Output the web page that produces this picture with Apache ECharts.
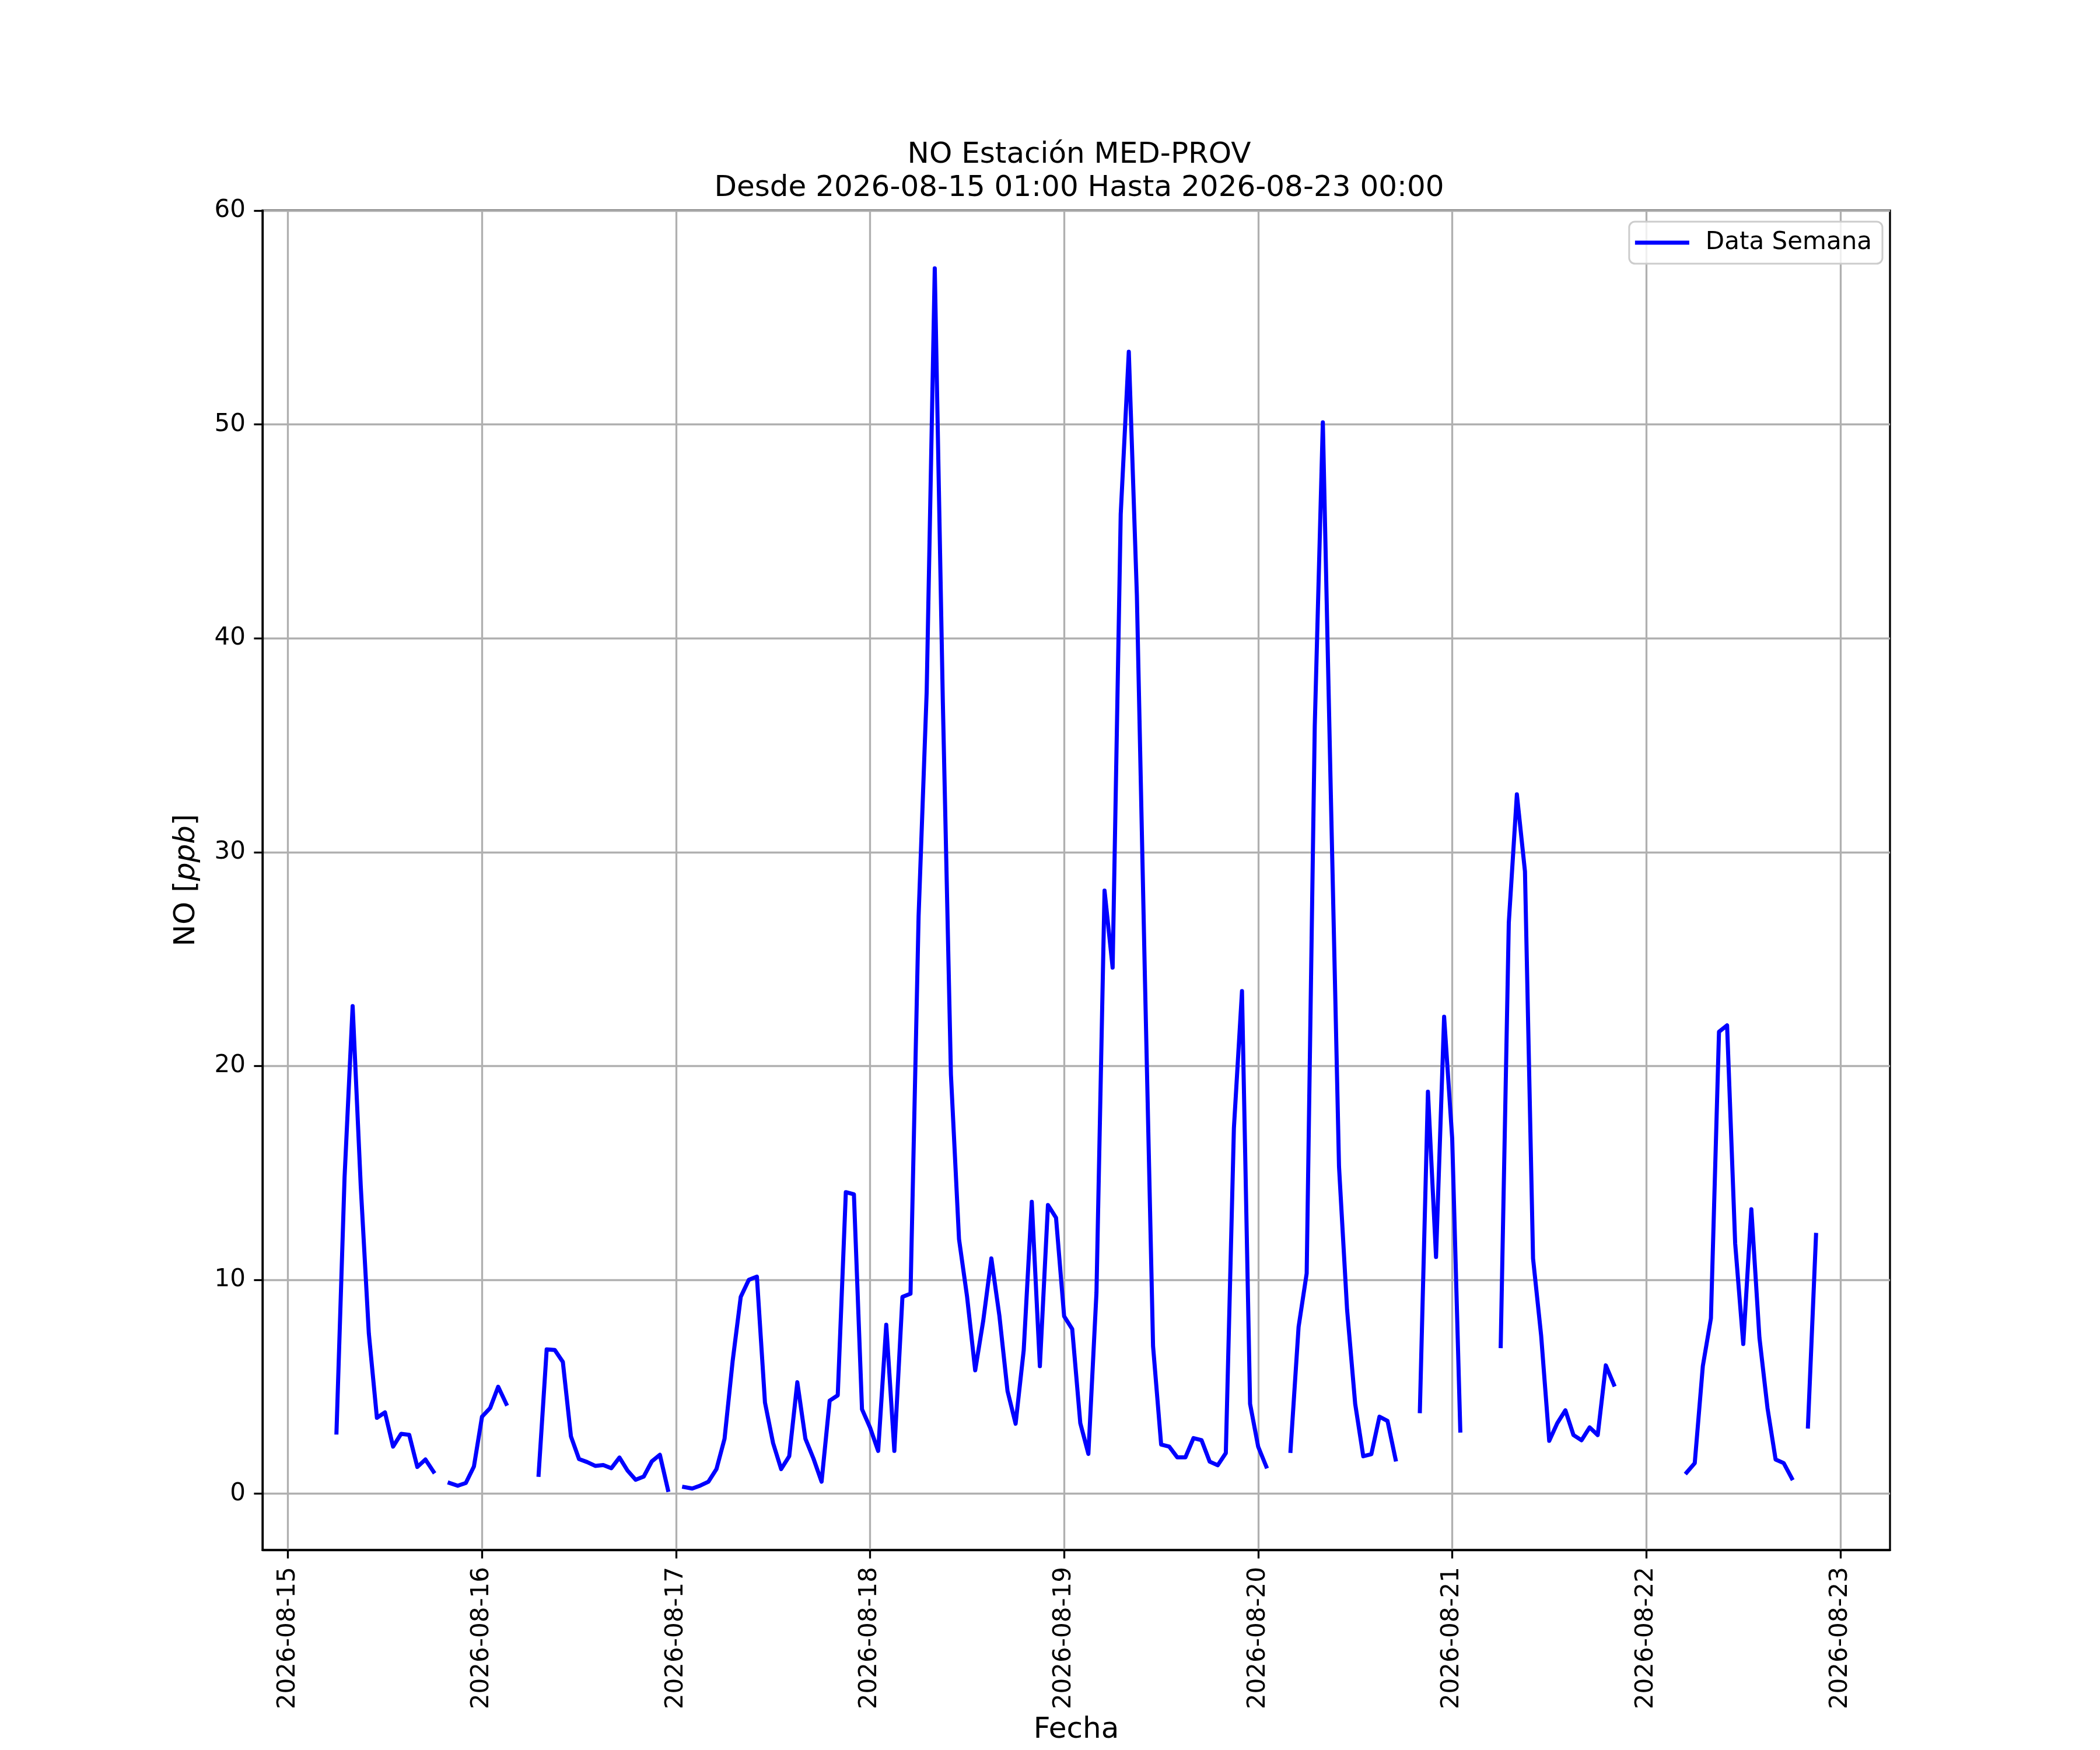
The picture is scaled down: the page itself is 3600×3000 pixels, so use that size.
<!DOCTYPE html>
<html>
<head>
<meta charset="utf-8">
<script src="https://cdn.jsdelivr.net/npm/echarts@6/dist/echarts.min.js"></script>
<style>
  html, body { margin: 0; padding: 0; background: #ffffff; }
  #chart { width: 3600px; height: 3000px; }
</style>
</head>
<body>
<div id="chart"></div>
<script>
// NO hourly values, one array per day (15th starts at 01:00, 23rd only has 00:00)
const day15 = [null, null, null, null, null, 2.86, 14.8, 22.8, 14.4, 7.5, 3.55, 3.8, 2.2, 2.8, 2.75, 1.25, 1.6, 1.03, null, 0.5, 0.37, 0.5, 1.27];
const day16 = [3.6, 4.0, 5.0, 4.2, null, null, null, 0.88, 6.75, 6.72, 6.16, 2.68, 1.62, 1.48, 1.3, 1.34, 1.19, 1.69, 1.08, 0.65, 0.8, 1.51, 1.82, 0.18];
const day17 = [null, 0.31, 0.24, 0.38, 0.56, 1.15, 2.57, 6.2, 9.2, 10.0, 10.15, 4.26, 2.37, 1.15, 1.75, 5.21, 2.57, 1.64, 0.56, 4.35, 4.6, 14.1, 14.0, 3.95];
const day18 = [3.09, 2.0, 7.9, 2.0, 9.2, 9.35, 27.0, 37.5, 57.3, 37.0, 19.6, 11.9, 9.2, 5.77, 8.1, 11.0, 8.3, 4.8, 3.27, 6.7, 13.65, 5.96, 13.5, 12.9];
const day19 = [8.3, 7.7, 3.3, 1.86, 9.4, 28.2, 24.6, 45.8, 53.4, 42.0, 24.0, 6.9, 2.3, 2.2, 1.7, 1.7, 2.6, 2.5, 1.5, 1.33, 1.9, 17.1, 23.5, 4.2];
const day20 = [2.2, 1.27, null, null, 2.0, 7.8, 10.3, 35.9, 50.1, 32.5, 15.3, 8.6, 4.2, 1.75, 1.85, 3.6, 3.4, 1.6, null, null, 3.86, 18.8, 11.07, 22.3];
const day21 = [16.6, 2.95, null, null, null, null, 6.9, 26.7, 32.7, 29.1, 11.0, 7.4, 2.47, 3.3, 3.9, 2.74, 2.5, 3.1, 2.74, 6.0, 5.1, null, null, null];
const day22 = [null, null, null, null, null, 0.99, 1.43, 5.97, 8.2, 21.6, 21.9, 11.7, 7.0, 13.3, 7.3, 4.0, 1.6, 1.43, 0.72, null, 3.14, 12.1, null, null];
const day23 = [null];

const dayTicks = ['2026-08-15', '2026-08-16', '2026-08-17', '2026-08-18', '2026-08-19',
                  '2026-08-20', '2026-08-21', '2026-08-22', '2026-08-23'];
const yTicks = [0, 10, 20, 30, 40, 50, 60];

// x is measured in hours since 2026-08-15 00:00; the first value sits at 01:00
const noValues = [].concat(day15, day16, day17, day18, day19, day20, day21, day22, day23);
const seriesData = noValues.map(function (v, i) { return [i + 1, v]; });
const xTickHours = dayTicks.map(function (d, i) { return i * 24; });

const FONT = 'DejaVu Sans';
const chart = echarts.init(document.getElementById('chart'), null, { renderer: 'canvas', devicePixelRatio: 1 });

const option = {
  backgroundColor: '#ffffff',
  animation: false,
  title: {
    text: 'NO Estación MED-PROV\nDesde 2026-08-15 01:00 Hasta 2026-08-23 00:00',
    left: 1845,
    top: 233,
    textAlign: 'center',
    textStyle: { fontFamily: FONT, fontSize: 50, fontWeight: 'normal', color: '#000', lineHeight: 57 }
  },
  legend: {
    right: 373,
    top: 380,
    icon: 'rect',
    itemWidth: 93,
    itemHeight: 7,
    padding: [15, 18, 15, 10],
    backgroundColor: 'rgba(255,255,255,0.8)',
    borderColor: '#cccccc',
    borderWidth: 3,
    borderRadius: 10,
    textStyle: { fontFamily: FONT, fontSize: 42, color: '#000', padding: [0, 0, 0, 23] },
    data: ['Data Semana']
  },
  grid: {
    left: 450, right: 360, top: 361, bottom: 329,
    show: true, borderColor: '#000', borderWidth: 3.3, backgroundColor: 'transparent'
  },
  xAxis: {
    type: 'value',
    min: -3.15,
    max: 198.15,
    name: 'Fecha',
    nameLocation: 'middle',
    nameGap: 279,
    nameTextStyle: { fontFamily: FONT, fontSize: 50, color: '#000', lineHeight: 57 },
    axisLine: { onZero: false, lineStyle: { color: '#000', width: 3.3 } },
    axisTick: { show: true, length: 14.6, lineStyle: { color: '#000', width: 3.3 }, customValues: xTickHours },
    axisLabel: {
      rotate: 90, margin: 29, fontFamily: FONT, fontSize: 42, color: '#000',
      customValues: xTickHours,
      formatter: function (v) { return dayTicks[Math.round(v / 24)] || ''; }
    },
    splitLine: { show: true, lineStyle: { color: '#b0b0b0', width: 3.3 } }
  },
  yAxis: {
    type: 'value',
    min: -2.63,
    max: 60.0,
    name: 'NO [{i|ppb}]',
    nameLocation: 'middle',
    nameGap: 101,
    nameTextStyle: {
      fontFamily: FONT, fontSize: 50, color: '#000', lineHeight: 57,
      rich: { i: { fontFamily: FONT, fontSize: 50, fontStyle: 'italic', color: '#000' } }
    },
    axisLine: { show: true, onZero: false, lineStyle: { color: '#000', width: 3.3 } },
    axisTick: { show: true, length: 14.6, lineStyle: { color: '#000', width: 3.3 }, customValues: yTicks },
    axisLabel: { margin: 29, fontFamily: FONT, fontSize: 42, color: '#000', customValues: yTicks },
    splitLine: { show: true, lineStyle: { color: '#b0b0b0', width: 3.3 } }
  },
  series: [{
    name: 'Data Semana',
    type: 'line',
    data: seriesData,
    showSymbol: false,
    symbol: 'none',
    connectNulls: false,
    color: '#0000ff',
    lineStyle: { color: '#0000ff', width: 7, join: 'round', cap: 'square' },
    z: 5
  }]
};

chart.setOption(option);
</script>
</body>
</html>
